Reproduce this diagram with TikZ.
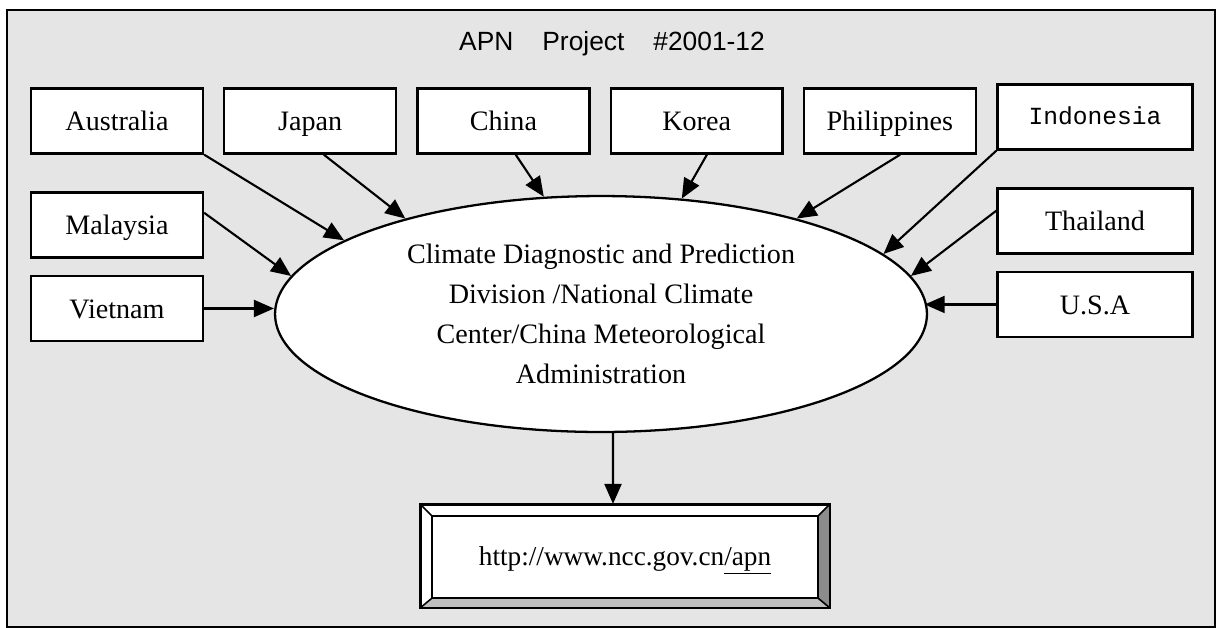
\documentclass[tikz,border=0pt]{standalone}
\usepackage{fontspec}
\setmainfont{Liberation Serif}
\newfontfamily\apnsans{Liberation Sans}
\newfontfamily\apnmono{Liberation Mono}
\usetikzlibrary{shapes.geometric,arrows.meta,positioning}

\begin{document}
\begin{tikzpicture}[
      x=0.02cm, y=-0.02cm,
      node distance=3.865cm,
      pays/.style={
        draw,
        fill=white,
        line width=1.3pt,
        minimum width=3.44cm,
        minimum height=1.3cm,
        text height=11pt,
        text depth=0pt,
        font=\fontsize{16}{19}\selectfont
      },
      paysd/.style={
        pays,
        minimum width=3.9cm
      },
      fleche/.style={
        line width=1.2pt,
        -{Triangle[length=0.4cm,width=0.34cm]}
      }
    ]
    \useasboundingbox (0,0) rectangle (1219,627);
    \draw[line width=1.3pt, fill=black!10] (7,10) rectangle (1215,627);
    \node[anchor=base, font=\apnsans\fontsize{15}{18}\selectfont] (titre) at (612,50)
      {APN\hspace{0.58cm}Project\hspace{0.58cm}\#2001-12};

    % rangee du haut
    \node[pays] (aus) at (117,121) {Australia} ;
    \node[pays, right of=aus] (jap) {Japan} ;
    \node[pays, right of=jap] (chi) {China} ;
    \node[pays, right of=chi] (kor) {Korea} ;
    \node[pays, right of=kor] (phi) {Philippines} ;
    \node[paysd, text height=9pt, font=\apnmono\fontsize{14}{16}\selectfont] (ind) at (1095,117) {Indonesia} ;
    % colonnes
    \node[pays, below of=aus, node distance=2.08cm] (mal) {Malaysia} ;
    \node[pays, below of=mal, node distance=1.67cm] (vie) {Vietnam} ;
    \node[paysd, below of=ind, node distance=2.08cm] (tha) {Thailand} ;
    \node[paysd, below of=tha, node distance=1.67cm] (usa) {U.S.A} ;

    \node[ellipse, draw, fill=white, line width=1.3pt, inner sep=0pt,
      minimum width=13.04cm, minimum height=4.72cm, align=center,
      font=\fontsize{16}{22.8}\selectfont] (ncc) at (601,314)
      {Climate Diagnostic and Prediction\\Division /National Climate\\Center/China Meteorological\\Administration} ;

    \node[draw, fill=white, line width=1.3pt, minimum width=8.16cm, minimum height=2.04cm,
      text height=10.5pt, text depth=0pt,
      font=\fontsize{15.5}{18}\selectfont] (url) at (625,556)
      {http://www.ncc.gov.cn\underline{/apn}} ;
    \coordinate (u1) at ([xshift=0.24cm,yshift=-0.24cm]url.north west);
    \coordinate (u2) at ([xshift=-0.24cm,yshift=-0.24cm]url.north east);
    \coordinate (u3) at ([xshift=-0.24cm,yshift=0.2cm]url.south east);
    \coordinate (u4) at ([xshift=0.24cm,yshift=0.2cm]url.south west);
    \fill[black!25] (url.south west) -- (u4) -- (u3) -- (url.south east) -- cycle;
    \fill[black!45] (url.south east) -- (u3) -- (u2) -- (url.north east) -- cycle;
    \draw[line width=1.3pt] (u1) rectangle (u3);
    \draw[line width=0.9pt] (url.north west) -- (u1) (url.north east) -- (u2)
      (url.south east) -- (u3) (url.south west) -- (u4);
    \draw[line width=1.3pt] (url.north west) rectangle (url.south east);

    \draw[fleche] (aus.south east) -- (ncc.164.4);
    \draw[fleche] (jap.-68) -- (ncc.154.3);
    \draw[fleche] (chi.-70) -- (ncc.116.4);
    \draw[fleche] (kor.-73) -- (ncc.55.2);
    \draw[fleche] (phi.-73) -- (ncc.26.1);
    \draw[fleche] (ind.south west) -- (ncc.12);
    \draw[fleche] (tha.174.7) -- (ncc.7.3);
    \draw[fleche] (usa.west) -- (ncc.3 |- usa.west);
    \draw[fleche] (mal.8) -- (ncc.173.2);
    \draw[fleche] (vie.east) -- (vie.east -| ncc.west);
    \draw[fleche] ([xshift=0.24cm]ncc.south) -- ([xshift=-0.24cm]url.north);

  \end{tikzpicture}
\end{document}
